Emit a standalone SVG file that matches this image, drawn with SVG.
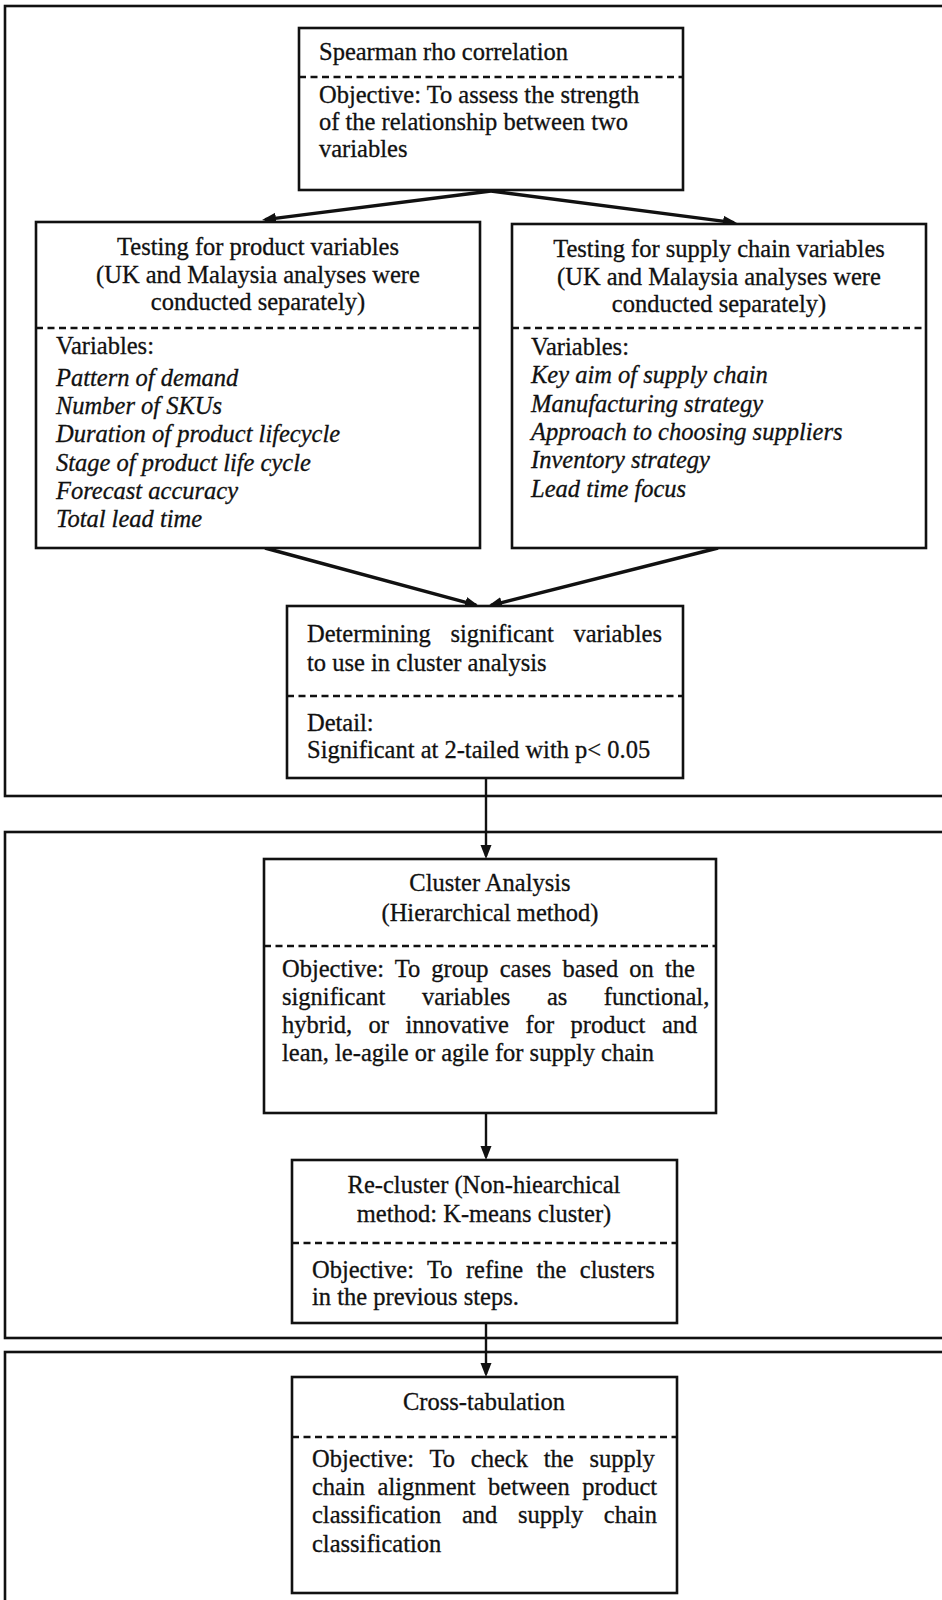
<svg xmlns="http://www.w3.org/2000/svg" width="942" height="1600" viewBox="0 0 942 1600">
<defs>
<style>
.frame{fill:none;stroke:#111;stroke-width:2.6}
.box{fill:#fff;stroke:#111;stroke-width:2.6}
.dash{stroke:#111;stroke-width:2.4;stroke-dasharray:7 4.5;fill:none}
text{font-family:"Liberation Serif","Times New Roman",serif;font-size:24.5px;fill:#111;stroke:#111;stroke-width:0.3}
.c{text-anchor:middle}
.i{font-style:italic}
.conn{stroke:#111;fill:none;stroke-linecap:butt}
.d{stroke-width:3.4}
.v{stroke-width:2.4}
</style>
<marker id="ah" markerUnits="userSpaceOnUse" markerWidth="15" markerHeight="12" refX="11" refY="6" orient="auto">
<path d="M0,0.5 L14,6 L0,11.5 z" fill="#111"/>
</marker>
</defs>
<rect width="942" height="1600" fill="#fff"/>
<g id="frames">
<rect class="frame" x="5" y="6" width="950" height="790"/>
<rect class="frame" x="5" y="832" width="950" height="506"/>
<rect class="frame" x="5" y="1352" width="950" height="270"/>
</g>
<g id="connectors">
<path class="conn d" d="M491,191 L265,219.6" marker-end="url(#ah)"/>
<path class="conn d" d="M491,191 L734,222.6" marker-end="url(#ah)"/>
<path class="conn d" d="M265,548 L476.1,605.2" marker-end="url(#ah)"/>
<path class="conn d" d="M718,548 L490.9,605.3" marker-end="url(#ah)"/>
<path class="conn v" d="M486,778 L486,856" marker-end="url(#ah)"/>
<path class="conn v" d="M486,1113 L486,1157" marker-end="url(#ah)"/>
<path class="conn v" d="M486,1323 L486,1374" marker-end="url(#ah)"/>
</g>
<g id="spearman">
<rect class="box" x="299" y="28" width="384" height="162"/>
<line class="dash" x1="299" y1="77" x2="683" y2="77"/>
<text x="319" y="60">Spearman rho correlation</text>
<text x="319" y="103">Objective: To assess the strength</text>
<text x="319" y="130">of the relationship between two</text>
<text x="319" y="157">variables</text>
</g>
<g id="product">
<rect class="box" x="36" y="222" width="444" height="326"/>
<line class="dash" x1="36" y1="328" x2="480" y2="328"/>
<text class="c" x="258" y="255">Testing for product variables</text>
<text class="c" x="258" y="283">(UK and Malaysia analyses were</text>
<text class="c" x="258" y="310">conducted separately)</text>
<text x="56" y="354">Variables:</text>
<text class="i" x="56" y="386">Pattern of demand</text>
<text class="i" x="56" y="414">Number of SKUs</text>
<text class="i" x="56" y="442">Duration of product lifecycle</text>
<text class="i" x="56" y="471">Stage of product life cycle</text>
<text class="i" x="56" y="499">Forecast accuracy</text>
<text class="i" x="56" y="527">Total lead time</text>
</g>
<g id="supply">
<rect class="box" x="512" y="224" width="414" height="324"/>
<line class="dash" x1="512" y1="328" x2="926" y2="328"/>
<text class="c" x="719" y="257">Testing for supply chain variables</text>
<text class="c" x="719" y="285">(UK and Malaysia analyses were</text>
<text class="c" x="719" y="312">conducted separately)</text>
<text x="531" y="355">Variables:</text>
<text class="i" x="531" y="383">Key aim of supply chain</text>
<text class="i" x="531" y="412">Manufacturing strategy</text>
<text class="i" x="531" y="440">Approach to choosing suppliers</text>
<text class="i" x="531" y="468">Inventory strategy</text>
<text class="i" x="531" y="497">Lead time focus</text>
</g>
<g id="determining">
<rect class="box" x="287" y="606" width="396" height="172"/>
<line class="dash" x1="287" y1="696" x2="683" y2="696"/>
<text x="307" y="642" style="word-spacing:13.5px">Determining significant variables</text>
<text x="307" y="671">to use in cluster analysis</text>
<text x="307" y="731">Detail:</text>
<text x="307" y="758">Significant at 2-tailed with p&lt; 0.05</text>
</g>
<g id="cluster">
<rect class="box" x="264" y="859" width="452" height="254"/>
<line class="dash" x1="264" y1="946" x2="716" y2="946"/>
<text class="c" x="490" y="891">Cluster Analysis</text>
<text class="c" x="490" y="921">(Hierarchical method)</text>
<text x="282" y="977" style="word-spacing:5px">Objective: To group cases based on the</text>
<text x="282" y="1005" style="word-spacing:30.4px">significant variables as functional,</text>
<text x="282" y="1033" style="word-spacing:10.4px">hybrid, or innovative for product and</text>
<text x="282" y="1061">lean, le-agile or agile for supply chain</text>
</g>
<g id="recluster">
<rect class="box" x="292" y="1160" width="385" height="163"/>
<line class="dash" x1="292" y1="1243" x2="677" y2="1243"/>
<text class="c" x="484" y="1193">Re-cluster (Non-hiearchical</text>
<text class="c" x="484" y="1222">method: K-means cluster)</text>
<text x="312" y="1278" style="word-spacing:7.3px">Objective: To refine the clusters</text>
<text x="312" y="1305">in the previous steps.</text>
</g>
<g id="crosstab">
<rect class="box" x="292" y="1377" width="385" height="216"/>
<line class="dash" x1="292" y1="1437" x2="677" y2="1437"/>
<text class="c" x="484" y="1410">Cross-tabulation</text>
<text x="312" y="1467" style="word-spacing:9.7px">Objective: To check the supply</text>
<text x="312" y="1495" style="word-spacing:6.4px">chain alignment between product</text>
<text x="312" y="1523" style="word-spacing:14.5px">classification and supply chain</text>
<text x="312" y="1552">classification</text>
</g>
</svg>
